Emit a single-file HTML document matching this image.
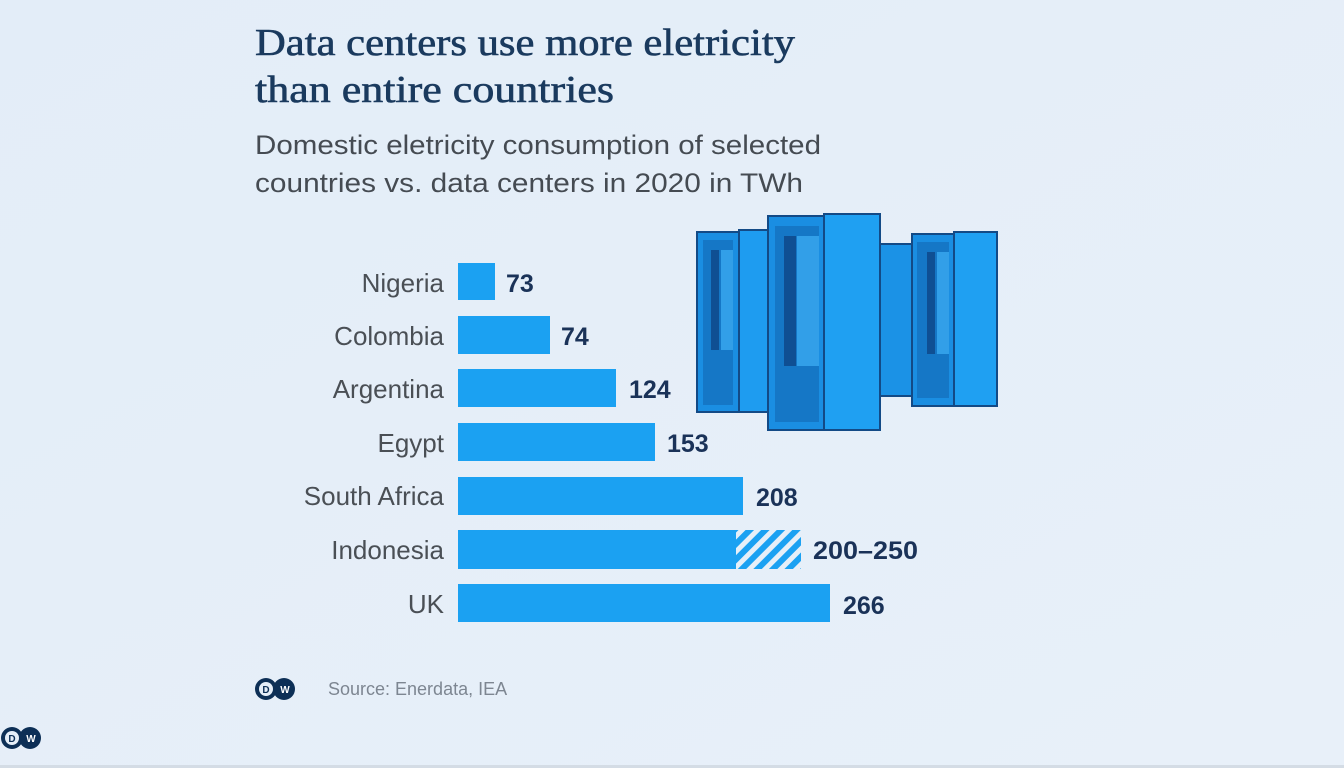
<!DOCTYPE html>
<html><head><meta charset="utf-8"><style>
html,body{margin:0;padding:0;background:#e5eef8;}
svg{display:block}
</style></head><body>
<svg width="1344" height="768" viewBox="0 0 1344 768" xmlns="http://www.w3.org/2000/svg">
<defs>
<linearGradient id="bg" x1="0" y1="0" x2="1" y2="1"><stop offset="0" stop-color="#e3edf8"/><stop offset="1" stop-color="#e8f0f9"/></linearGradient>
<pattern id="hatch" width="11" height="11" patternUnits="userSpaceOnUse" patternTransform="rotate(45)">
<rect width="11" height="11" fill="#e6eff8"/><rect width="6" height="11" fill="#1ba1f2"/></pattern>
</defs>
<rect width="1344" height="768" fill="url(#bg)"/>
<g font-family="Liberation Serif, serif" fill="#1a3a5e" font-size="38" stroke="#1a3a5e" stroke-width="0.6">
<text x="255" y="55" textLength="540" lengthAdjust="spacingAndGlyphs">Data centers use more eletricity</text>
<text x="255" y="102" textLength="359" lengthAdjust="spacingAndGlyphs">than entire countries</text>
</g>
<g font-family="Liberation Sans, sans-serif" fill="#454b52" font-size="27">
<text x="255" y="154" textLength="566" lengthAdjust="spacingAndGlyphs">Domestic eletricity consumption of selected</text>
<text x="255" y="192" textLength="548" lengthAdjust="spacingAndGlyphs">countries vs. data centers in 2020 in TWh</text>
</g>
<g font-family="Liberation Sans, sans-serif" fill="#4a4f55" font-size="26" text-anchor="end">
<text x="444" y="292">Nigeria</text>
<text x="444" y="345">Colombia</text>
<text x="444" y="398">Argentina</text>
<text x="444" y="452">Egypt</text>
<text x="444" y="505">South Africa</text>
<text x="444" y="559">Indonesia</text>
<text x="444" y="613">UK</text>
</g>
<g fill="#1ba1f2">
<rect x="458" y="263" width="37" height="37"/>
<rect x="458" y="316" width="92" height="38"/>
<rect x="458" y="369" width="158" height="38"/>
<rect x="458" y="423" width="197" height="38"/>
<rect x="458" y="477" width="285" height="38"/>
<rect x="458" y="530" width="278" height="39"/>
<rect x="458" y="584" width="372" height="38"/>
</g>
<rect x="736" y="530" width="65" height="39" fill="url(#hatch)"/>
<g font-family="Liberation Sans, sans-serif" fill="#1a3258" font-size="25" font-weight="bold">
<text x="506" y="292">73</text>
<text x="561" y="345">74</text>
<text x="629" y="398">124</text>
<text x="667" y="452">153</text>
<text x="756" y="506">208</text>
<text x="813" y="559" textLength="105" lengthAdjust="spacingAndGlyphs">200–250</text>
<text x="843" y="614">266</text>
</g>
<!-- servers -->
<g stroke="#134a86" stroke-width="2">
<rect x="878" y="244" width="36" height="152" fill="#1b92e6"/>
<rect x="697" y="232" width="42" height="180" fill="#1a8ee2"/>
<rect x="739" y="230" width="30" height="182" fill="#1e9cf0"/>
<rect x="703" y="240" width="30" height="165" fill="#1577c6" stroke="none"/>
<rect x="768" y="216" width="56" height="214" fill="#1a8ee2"/>
<rect x="824" y="214" width="56" height="216" fill="#1fa0f2"/>
<rect x="775" y="226" width="44" height="196" fill="#1577c6" stroke="none"/>
<rect x="912" y="234" width="42" height="172" fill="#1a8ee2"/>
<rect x="954" y="232" width="43" height="174" fill="#1fa0f2"/>
<rect x="917" y="242" width="32" height="156" fill="#1577c6" stroke="none"/>
</g>
<g fill="#3aa9f0" opacity="0.8">
<rect x="721" y="250" width="12" height="100"/>
<rect x="797" y="236" width="22" height="130"/>
<rect x="937" y="252" width="12" height="102"/>
</g>
<g fill="#0f4f93">
<rect x="711" y="250" width="8" height="100"/>
<rect x="784" y="236" width="12" height="130"/>
<rect x="927" y="252" width="8" height="102"/>
</g>
<g>
<circle cx="266" cy="689" r="11" fill="#0d2f56"/><circle cx="284" cy="689" r="11" fill="#0d2f56"/>
<circle cx="266" cy="689" r="7" fill="#e5eef8"/>
<text x="266" y="693" font-family="Liberation Sans, sans-serif" font-size="10" font-weight="bold" fill="#0d2f56" text-anchor="middle">D</text>
<text x="285" y="693" font-family="Liberation Sans, sans-serif" font-size="10" font-weight="bold" fill="#fff" text-anchor="middle">W</text>
</g>
<text x="328" y="695" font-family="Liberation Sans, sans-serif" font-size="18" fill="#7d8691">Source: Enerdata, IEA</text>
<g>
<circle cx="12" cy="738" r="11" fill="#0d2f56"/><circle cx="30" cy="738" r="11" fill="#0d2f56"/>
<circle cx="12" cy="738" r="7" fill="#e5eef8"/>
<text x="12" y="742" font-family="Liberation Sans, sans-serif" font-size="10" font-weight="bold" fill="#0d2f56" text-anchor="middle">D</text>
<text x="31" y="742" font-family="Liberation Sans, sans-serif" font-size="10" font-weight="bold" fill="#fff" text-anchor="middle">W</text>
</g>
<rect x="0" y="765" width="1344" height="3" fill="#d4dce5"/>
</svg>
</body></html>
